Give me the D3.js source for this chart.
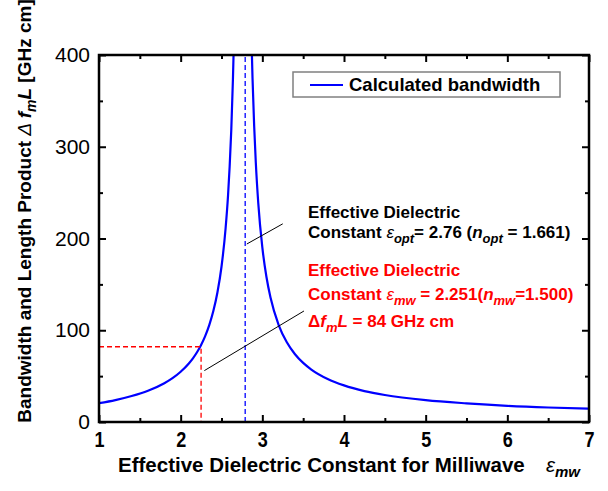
<!DOCTYPE html>
<html>
<head>
<meta charset="utf-8">
<script src="https://cdn.jsdelivr.net/npm/d3@7"></script>
<style>
  body { margin: 0; background: #fff; }
  text { font-family: "Liberation Sans", Arial, sans-serif; fill: #000; }
</style>
</head>
<body>
<svg id="chart" width="608" height="491"></svg>
<script>
// values
var leftEps = [1.0, 1.2, 1.4, 1.6, 1.8, 1.9, 2.0, 2.1, 2.15, 2.2, 2.25, 2.3, 2.35, 2.4, 2.45, 2.5, 2.55, 2.58, 2.6, 2.62, 2.64, 2.65, 2.66];
var leftBw  = [20.5, 23.9, 28.3, 34.1, 42.3, 47.8, 54.8, 63.8, 69.4, 76.0, 84.0, 93.6, 105.6, 120.9, 141.1, 169.2, 210.9, 246.7, 278.8, 318.9, 373.5, 408.5, 451];
var rightEps = [2.86, 2.87, 2.88, 2.9, 2.92, 2.95, 3.0, 3.05, 3.1, 3.2, 3.3, 3.4, 3.5, 3.6, 3.8, 4.0, 4.25, 4.5, 5.0, 5.5, 6.0, 6.5, 7.0];
var rightBw  = [447.7, 408, 374.5, 322.7, 282.8, 238.9, 190.2, 158.3, 135.6, 105.7, 86.9, 73.9, 64.4, 57.2, 46.9, 39.9, 33.7, 29.4, 23.8, 20.3, 17.6, 15.8, 14.6];

var xTicks = [1, 2, 3, 4, 5, 6, 7],
    xMinor = [1.5, 2.5, 3.5, 4.5, 5.5, 6.5],
    yTicks = [0, 100, 200, 300, 400],
    yMinor = [50, 150, 250, 350];

var optEps = 2.79,
    mwEps = 2.25,
    mwBw = 82;
var pointerOpt = [[2.81, 194], [3.25, 216]],
    pointerMw = [[2.29, 56], [3.51, 121]];

var svg = d3.select("#chart"),
    plot = {left: 99, right: 589, top: 55, bottom: 422};

var x = d3.scaleLinear().domain([1, 7]).range([plot.left, plot.right]);
var y = d3.scaleLinear().domain([0, 400]).range([plot.bottom, plot.top]);

svg.append("clipPath").attr("id", "clip")
  .append("rect")
    .attr("x", plot.left).attr("y", plot.top)
    .attr("width", plot.right - plot.left)
    .attr("height", plot.bottom - plot.top);

var line = d3.line()
    .x(function(d) { return x(d[0]); })
    .y(function(d) { return y(d[1]); })
    .curve(d3.curveMonotoneX);

var g = svg.append("g").attr("clip-path", "url(#clip)");

[d3.zip(leftEps, leftBw), d3.zip(rightEps, rightBw)].forEach(function(branch) {
  g.append("path")
    .datum(branch)
    .attr("d", line)
    .attr("fill", "none")
    .attr("stroke", "#0000ff")
    .attr("stroke-width", 2.2);
});

// dashed guides
g.append("line")
  .attr("x1", x(optEps)).attr("x2", x(optEps))
  .attr("y1", y(0)).attr("y2", y(400))
  .attr("stroke", "#0000ff").attr("stroke-width", 1.3)
  .attr("stroke-dasharray", "5,3");

g.append("path")
  .attr("d", line.curve(d3.curveLinear)([[1, mwBw], [mwEps, mwBw], [mwEps, 0]]))
  .attr("fill", "none")
  .attr("stroke", "#ff0000").attr("stroke-width", 1.3)
  .attr("stroke-dasharray", "5,3");

[pointerOpt, pointerMw].forEach(function(p) {
  g.append("path")
    .attr("d", line(p))
    .attr("stroke", "#000").attr("stroke-width", 1);
});

// frame
svg.append("rect")
  .attr("x", plot.left).attr("y", plot.top)
  .attr("width", plot.right - plot.left)
  .attr("height", plot.bottom - plot.top)
  .attr("fill", "none").attr("stroke", "#000").attr("stroke-width", 2.5);

function ticks(axis, tr, values, size, labels) {
  var a = svg.append("g")
    .attr("transform", tr)
    .call(axis.tickValues(values).tickSize(-size).tickSizeOuter(0)
      .tickPadding(9).tickFormat(labels ? d3.format("d") : ""));
  a.select(".domain").remove();
  a.selectAll("line").attr("stroke", "#000").attr("stroke-width", 2);
  return a;
}

var xAx = ticks(d3.axisBottom(x), "translate(0," + plot.bottom + ")", xTicks, 7, true);
ticks(d3.axisBottom(x), "translate(0," + plot.bottom + ")", xMinor, 4, false);
ticks(d3.axisTop(x), "translate(0," + plot.top + ")", xTicks, 7, false);
ticks(d3.axisTop(x), "translate(0," + plot.top + ")", xMinor, 4, false);
var yAx = ticks(d3.axisLeft(y), "translate(" + plot.left + ",0)", yTicks, 7, true);
ticks(d3.axisLeft(y), "translate(" + plot.left + ",0)", yMinor, 4, false);
ticks(d3.axisRight(y), "translate(" + plot.right + ",0)", yTicks, 7, false);
ticks(d3.axisRight(y), "translate(" + plot.right + ",0)", yMinor, 4, false);

xAx.selectAll("text")
  .attr("font-family", "Liberation Sans, Arial, sans-serif")
  .attr("font-size", 22).attr("font-weight", "bold")
  .attr("transform", "scale(0.82,1)");
yAx.selectAll("text")
  .attr("font-family", "Liberation Sans, Arial, sans-serif")
  .attr("font-size", 21);

// axis titles
var xt = svg.append("text")
  .attr("x", 118).attr("y", 472)
  .attr("font-size", 20.5).attr("font-weight", "bold");
xt.append("tspan").text("Effective Dielectric Constant for Milliwave");
xt.append("tspan").attr("x", 546).attr("font-weight", "normal").attr("font-style", "italic").text("ε");
xt.append("tspan").attr("dy", 5).attr("font-size", 15).attr("font-style", "italic").text("mw");

var yt = svg.append("text")
  .attr("transform", "translate(31,211) rotate(-90)")
  .attr("text-anchor", "middle")
  .attr("font-size", 19).attr("font-weight", "bold");
yt.append("tspan").text("Bandwidth and Length Product ");
yt.append("tspan").attr("font-weight", "normal").attr("font-style", "italic").text("Δ ");
yt.append("tspan").attr("font-style", "italic").text("f");
yt.append("tspan").attr("dy", 5).attr("font-size", 14).attr("font-style", "italic").text("m");
yt.append("tspan").attr("dy", -5).attr("font-style", "italic").text("L");
yt.append("tspan").text(" [GHz cm]");

// legend
svg.append("rect")
  .attr("x", 293).attr("y", 72).attr("width", 267).attr("height", 25)
  .attr("fill", "#fff").attr("stroke", "#808080").attr("stroke-width", 1.5);
svg.append("line")
  .attr("x1", 310).attr("x2", 343).attr("y1", 85).attr("y2", 85)
  .attr("stroke", "#0000ff").attr("stroke-width", 2);
svg.append("text")
  .attr("x", 349).attr("y", 91)
  .attr("font-size", 18.5).attr("font-weight", "bold")
  .text("Calculated bandwidth");

// annotations
function note(xp, yp, color) {
  return svg.append("text").attr("x", xp).attr("y", yp)
    .attr("font-size", 17).attr("font-weight", "bold").style("fill", color);
}
function sub(t, s) {
  t.append("tspan").attr("dy", 5).attr("font-size", 13).attr("font-style", "italic").text(s);
}
function unsub(t, s) {
  t.append("tspan").attr("dy", -5).text(s);
}

note(308, 218, "#000").text("Effective Dielectric");
var n1 = note(308, 238, "#000");
n1.append("tspan").text("Constant ");
n1.append("tspan").attr("font-weight", "normal").attr("font-style", "italic").text("ε");
sub(n1, "opt");
unsub(n1, "= 2.76 (");
n1.append("tspan").attr("font-style", "italic").text("n");
sub(n1, "opt");
unsub(n1, " = 1.661)");

note(308, 276, "#ff0000").text("Effective Dielectric");
var n2 = note(308, 300, "#ff0000");
n2.append("tspan").text("Constant ");
n2.append("tspan").attr("font-weight", "normal").attr("font-style", "italic").text("ε");
sub(n2, "mw");
unsub(n2, " = 2.251(");
n2.append("tspan").attr("font-style", "italic").text("n");
sub(n2, "mw");
unsub(n2, "=1.500)");

var n3 = note(308, 327, "#ff0000");
n3.append("tspan").text("Δ");
n3.append("tspan").attr("font-style", "italic").text("f");
sub(n3, "m");
n3.append("tspan").attr("dy", -5).attr("font-style", "italic").text("L");
n3.append("tspan").text(" = 84 GHz cm");
</script>
</body>
</html>
